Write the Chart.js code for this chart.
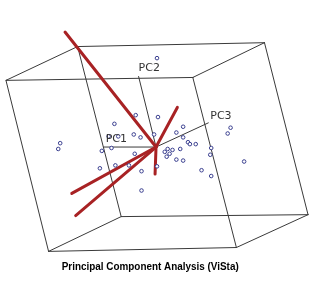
<!DOCTYPE html>
<html lang="en">
<head>
<meta charset="UTF-8">
<title>Principal Component Analysis (ViSta)</title>
<script src="https://cdn.jsdelivr.net/npm/chart.js@4.4.1/dist/chart.umd.min.js"></script>
<style>
    * { margin: 0; padding: 0; box-sizing: border-box; }
    body { background: #fff; }
    .wrap { position: relative; width: 314px; height: 296px; }
</style>
</head>
<body>
<div class="wrap"><canvas id="pca"></canvas></div>
<script>
    // Projected cube corners (front face, then back face)
    const cubeCorners = [[1, 78], [194, 75], [239, 251], [45, 255], [75, 43], [268, 39], [313, 217], [120, 219]];
    const cubeEdges = [[0, 1], [1, 2], [2, 3], [3, 0], [4, 5], [5, 6], [6, 7], [7, 4], [0, 4], [1, 5], [2, 6], [3, 7]];

    // Component axes from the origin
    const origin = [156, 147];
    const axisNames = ['PC1', 'PC2', 'PC3'];
    const axisEnds = [[102, 147], [138, 74], [210, 122]];
    const axisLabelPos = [[104, 140], [138, 66], [212, 116]];

    // Variable loading vectors
    const loadingEnds = [[62, 28], [178, 106], [69, 195], [73, 218], [155, 175]];

    // Observation scores
    const scores = [
        [157, 55], [135, 114], [113, 123], [158, 116], [133, 134], [140, 137], [154, 134],
        [107, 136], [117, 136], [100, 151], [110, 148], [114, 166], [128, 166], [134, 154],
        [177, 132], [184, 126], [184, 137], [189, 142], [191, 144], [197, 144], [181, 149],
        [173, 150], [168, 149], [165, 152], [170, 154], [167, 157], [177, 160], [184, 161],
        [213, 148], [212, 155], [203, 171], [213, 177], [233, 127], [230, 133], [247, 162],
        [157, 167], [57, 143], [55, 149], [98, 169], [141, 172], [141, 192]
    ];

    const titleText = 'Principal Component Analysis (ViSta)';

    const pt = p => ({ x: p[0], y: p[1] });
    const segment = (a, b, color, width, order) => ({
        type: 'scatter',
        data: [pt(a), pt(b)],
        showLine: true,
        borderColor: color,
        borderWidth: width,
        borderCapStyle: 'round',
        pointRadius: 0,
        order: order
    });

    const datasets = [];
    cubeEdges.forEach(e => datasets.push(segment(cubeCorners[e[0]], cubeCorners[e[1]], '#3a3a3a', 1, 5)));
    axisEnds.forEach(e => datasets.push(segment(origin, e, '#3a3a3a', 1, 4)));
    loadingEnds.forEach(e => datasets.push(segment(origin, e, '#a82224', 3, 3)));
    datasets.push({
        type: 'scatter',
        data: scores.map(pt),
        pointRadius: 1.8,
        pointBorderWidth: 1,
        pointBorderColor: '#3a3f8f',
        pointBackgroundColor: '#ffffff',
        order: 1
    });

    const textPlugin = {
        id: 'texts',
        afterDraw(chart) {
            const ctx = chart.ctx;
            const sx = chart.scales.x, sy = chart.scales.y;
            ctx.save();
            ctx.fillStyle = '#333';
            ctx.font = '11px "DejaVu Sans", sans-serif';
            ctx.textBaseline = 'bottom';
            ctx.textAlign = 'left';
            axisNames.forEach((n, i) => {
                ctx.fillText(n, sx.getPixelForValue(axisLabelPos[i][0]), sy.getPixelForValue(axisLabelPos[i][1] + 5));
            });
            // title, squeezed to the width seen in the reference
            ctx.fillStyle = '#000';
            ctx.font = 'bold 11px Arial, "Liberation Sans", sans-serif';
            ctx.textBaseline = 'middle';
            const w = ctx.measureText(titleText).width;
            const cx = sx.getPixelForValue(150), cy = sy.getPixelForValue(271);
            ctx.translate(cx, cy);
            ctx.scale(177 / w, 1);
            ctx.textAlign = 'center';
            ctx.fillText(titleText, 0, 0);
            ctx.restore();
        }
    };

    new Chart(document.getElementById('pca'), {
        type: 'scatter',
        data: { datasets: datasets },
        options: {
            responsive: true,
            maintainAspectRatio: false,
            animation: false,
            layout: { padding: 0 },
            plugins: { legend: { display: false }, tooltip: { enabled: false } },
            scales: {
                x: { type: 'linear', min: 0, max: 314, display: false },
                y: { type: 'linear', min: 0, max: 296, reverse: true, display: false }
            }
        },
        plugins: [textPlugin]
    });
</script>
</body>
</html>
